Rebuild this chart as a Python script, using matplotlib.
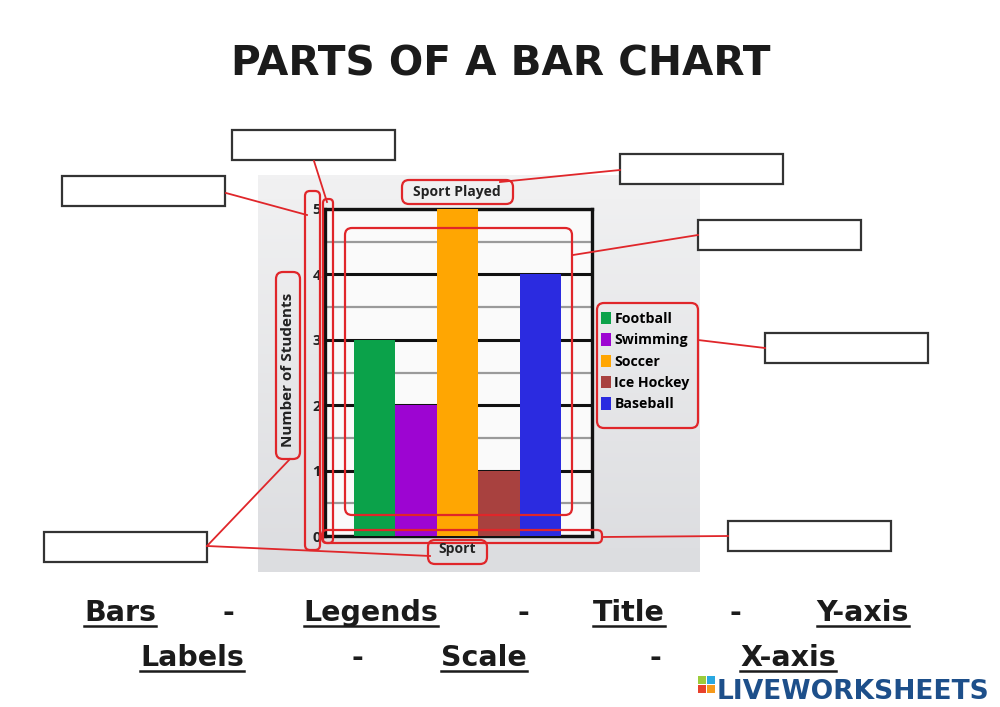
import matplotlib
matplotlib.use("Agg")
import matplotlib.pyplot as plt
import numpy as np
from matplotlib.patches import Rectangle, FancyBboxPatch

# chart data
sports = ["Football", "Swimming", "Soccer", "Ice Hockey", "Baseball"]
students = [3, 2, 5, 1, 4]
bar_colors = ["#0ba24a", "#9d05d2", "#ffa602", "#a8413f", "#2b2be0"]
y_ticks = [0, 1, 2, 3, 4, 5]

# worksheet words
row1_words = ["Bars", "-", "Legends", "-", "Title", "-", "Y-axis"]
row1_x = [120, 228, 371, 523, 629, 735, 863]
row2_words = ["Labels", "-", "Scale", "-", "X-axis"]
row2_x = [192, 357, 484, 655, 788]

W, H = 1000, 707
fig = plt.figure(figsize=(W / 100, H / 100), dpi=100)
fig.patch.set_facecolor("white")

# background layer (pixel coords, y down)
bg = fig.add_axes([0, 0, 1, 1], zorder=0)
bg.set_xlim(0, W)
bg.set_ylim(H, 0)
bg.axis("off")
grad = np.linspace(0, 1, 100).reshape(-1, 1)
bg.imshow(grad, extent=(258, 700, 572, 175), cmap=matplotlib.colors.LinearSegmentedColormap.from_list(
    "g", ["#f1f1f2", "#dcdde0"]), aspect="auto", zorder=0)

# the bar chart itself
ax = fig.add_axes([325 / W, 1 - 536 / H, 267 / W, 327 / H], zorder=1)
ax.set_facecolor("#fafafa")
x = np.arange(len(sports))
for i in range(len(sports)):
    ax.bar(x[i], students[i], width=1.0, color=bar_colors[i], label=sports[i], zorder=3)
ax.set_xlim(-1.2, 5.25)
ax.set_ylim(0, 5)
ax.set_yticks(y_ticks)
ax.set_yticks(np.arange(0.5, 5, 1), minor=True)
ax.set_xticks([])
ax.grid(axis="y", which="major", color="#111111", lw=2.2, zorder=1)
ax.grid(axis="y", which="minor", color="#9a9a9a", lw=1.6, zorder=1)
ax.tick_params(axis="y", which="both", length=0, pad=3, labelsize=10.5, labelcolor="#222222")
for lab in ax.get_yticklabels():
    lab.set_fontweight("bold")
    lab.set_family("Open Sans")
for s in ax.spines.values():
    s.set_color("#111111")
    s.set_linewidth(2.4)

leg = ax.legend(loc="upper left", bbox_to_anchor=(601 / W, 1 - 312 / H), bbox_transform=fig.transFigure,
                frameon=False, handlelength=0.7, handleheight=0.95, handletextpad=0.25,
                labelspacing=0.52, borderaxespad=0, borderpad=0,
                prop={"family": "Open Sans", "weight": "bold", "size": 10.2, "stretch": "condensed"})

# overlay layer: labels, red outlines, answer boxes
ov = fig.add_axes([0, 0, 1, 1], zorder=2)
ov.set_xlim(0, W)
ov.set_ylim(H, 0)
ov.axis("off")
ov.patch.set_alpha(0)

chart_font = {"family": "Open Sans", "weight": "bold", "color": "#222222"}
ov.text(457, 192, "Sport Played", ha="center", va="center", fontsize=10, **chart_font)
ov.text(457, 549, "Sport", ha="center", va="center", fontsize=10, **chart_font)
ov.text(288, 370, "Number of Students", ha="center", va="center", rotation=90, fontsize=11, **chart_font)

red = "#e0262a"


def red_box(x0, y0, x1, y1, r=6):
    ov.add_patch(FancyBboxPatch((x0, y0), x1 - x0, y1 - y0,
                                boxstyle=f"round,pad=0,rounding_size={r}",
                                fc="none", ec=red, lw=1.6))


red_box(402, 180, 513, 204, 7)        # title
red_box(428, 540, 487, 564, 7)        # x label
red_box(276, 272, 300, 459, 7)        # y label
red_box(597, 303, 698, 428, 7)        # legend
red_box(345, 228, 572, 515, 7)        # bars
red_box(305, 191, 320, 550, 5)        # scale
red_box(323, 199, 333, 543, 4)        # y axis
red_box(322, 530, 602, 543, 5)        # x axis

connectors = [
    [(226, 193), (307, 215)],
    [(314, 161), (327, 202)],
    [(620, 170), (500, 182)],
    [(698, 235), (573, 255)],
    [(765, 348), (698, 340)],
    [(728, 536), (602, 537)],
    [(207, 546), (290, 459)],
    [(207, 546), (430, 556)],
]
for (x0, y0), (x1, y1) in connectors:
    ov.plot([x0, x1], [y0, y1], color=red, lw=1.3)

answer_boxes = [(62, 176), (232, 130), (620, 154), (698, 220), (765, 333), (728, 521), (44, 532)]
for bx, by in answer_boxes:
    ov.add_patch(Rectangle((bx, by), 163, 30, fc="white", ec="#333333", lw=1.6))

# headings and answer words
ov.text(501, 76, "PARTS OF A BAR CHART", ha="center", va="baseline", fontsize=29.2,
        fontweight="bold", family="DejaVu Sans", color="#1b1b1b")

fig.canvas.draw()
renderer = fig.canvas.get_renderer()
inv = ov.transData.inverted()


def word_row(words, xs, base):
    for w, cx in zip(words, xs):
        t = ov.text(cx, base, w, ha="center", va="baseline", fontsize=20.5,
                    fontweight="bold", family="DejaVu Sans", color="#1b1b1b")
        if w != "-":
            bb = t.get_window_extent(renderer)
            (xa, _), (xb, _) = inv.transform([(bb.x0, bb.y0), (bb.x1, bb.y0)])
            ov.plot([xa, xb], [base + 5, base + 5], color="#1b1b1b", lw=1.8)


word_row(row1_words, row1_x, 621)
word_row(row2_words, row2_x, 666)

# logo
icon_cols = ["#9ccc3b", "#2aa8e0", "#e8412c", "#f59a1c"]
for k, (dx, dy) in enumerate([(0, 0), (9, 0), (0, 9), (9, 9)]):
    ov.add_patch(Rectangle((698 + dx, 676 + dy), 8, 8, fc=icon_cols[k], ec="none"))
ov.text(717, 699, "LIVEWORKSHEETS", ha="left", va="baseline", fontsize=19.1,
        fontweight="bold", family="DejaVu Sans", color="#1d4f8a")

fig.savefig("out.png", dpi=100)
